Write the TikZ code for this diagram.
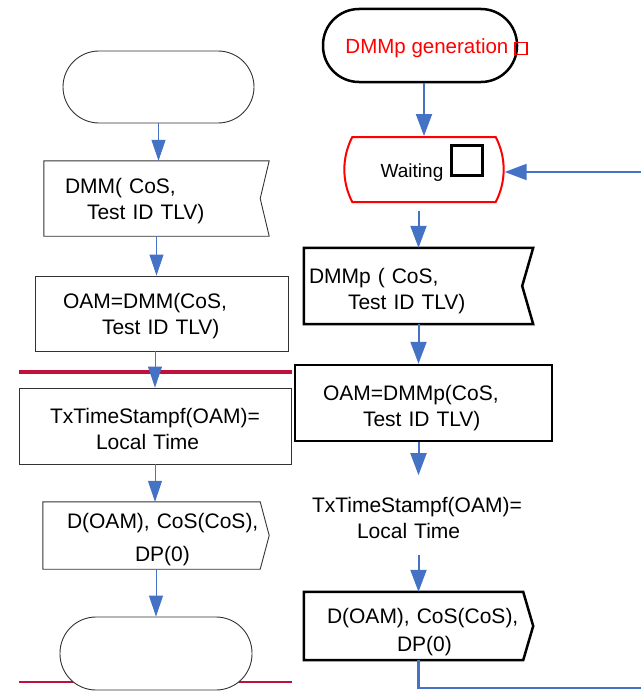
\documentclass[tikz,border=0pt]{standalone}
\usepackage{fontspec}
\setmainfont{Liberation Sans}
\usetikzlibrary{arrows.meta,shapes.misc}

\definecolor{flowblue}{RGB}{68,114,196}
\definecolor{cutred}{RGB}{192,16,60}

% small squares printed after the state texts
\newcommand{\gensq}{{\setlength{\fboxsep}{0pt}\setlength{\fboxrule}{1.3pt}\fbox{\rule{0pt}{10.5pt}\hspace{10.5pt}}}}
\newcommand{\waitsq}{{\setlength{\fboxsep}{0pt}\setlength{\fboxrule}{3pt}\fbox{\rule{0pt}{27pt}\hspace{28pt}}}}

\begin{document}
\begin{tikzpicture}[
    x=1pt, y=-1pt,
    every node/.style={font=\fontsize{21}{26}\selectfont},
    >={Triangle[length=21pt,width=14pt]},
    thinbox/.style={draw=black!80, line width=0.9pt},
    thickbox/.style={draw=black, line width=2.5pt},
    term/.style={rounded corners=36pt, minimum width=#1, minimum height=73pt},
    txt/.style n args={3}{minimum height=#1, inner xsep=#2, inner ysep=0pt,
        text width=#3, align=left},
    lift/.style={execute at begin node={\rule{0pt}{#1}}},
    lflow/.style={->, flowblue, line width=1pt},
    rflow/.style={-{Triangle[length=22pt,width=16pt]}, flowblue, line width=2pt},
]

\useasboundingbox (0,0) rectangle (641,693);

% === Cut lines (behind everything) ===
\draw[cutred, line width=4pt] (19,372) -- (292,372);
\draw[cutred, line width=2.5pt] (19,682) -- (292,682);

% === Left column ===
\node[thinbox, term=191pt, minimum height=72pt] (lstart) at (158.5,87) {};
\node[txt={75pt}{21pt}{183pt}, lift=21pt] (ldmm) at (156.5,198.5)
    {DMM( CoS,\\\hspace*{22pt}Test ID TLV)};
\draw[thinbox] (ldmm.north west) -- (ldmm.north east) -- ([xshift=-9pt]ldmm.east)
    -- (ldmm.south east) -- (ldmm.south west) -- cycle;
\node[thinbox, txt={75pt}{28pt}{197pt}, lift=21pt] (loam) at (161.5,313.5)
    {OAM=DMM(CoS,\\\hspace*{39pt}Test ID TLV)};
\node[thinbox, txt={76pt}{31pt}{210pt}, lift=21pt] (lstamp) at (155,426)
    {\mbox{TxTimeStampf(OAM)=}\\\hspace*{46pt}Local Time};
\node[txt={67pt}{24pt}{178pt}, lift=23pt] (lout) at (156,535.5)
    {\mbox{D(OAM), CoS(CoS),}\\[7pt]\hspace*{68pt}DP(0)};
\draw[thinbox] (lout.north west) -- ([xshift=-9pt]lout.north east) -- (lout.east)
    -- ([xshift=-9pt]lout.south east) -- (lout.south west) -- cycle;
\node[thinbox, term=192pt, fill=white] (lend) at (156,653.5) {};

\draw[lflow] (lstart.south) -- (lstart.south |- ldmm.north);
\draw[lflow] (ldmm.south) -- (ldmm.south |- loam.north);
\draw[lflow] (lstamp.north |- loam.south) -- (lstamp.north);
\draw[lflow] (lstamp.south) -- (lstamp.south |- lout.north);
\draw[lflow] (lout.south) -- (lout.south |- lend.north);

% === Right column ===
\node[thickbox, term=194pt, text=red, font=\fontsize{20.5}{25}\selectfont] (rgen) at (420,45.5)
    {\makebox[0pt]{\hspace*{33pt}DMMp generation\hspace{6pt}\gensq}\rule{0pt}{21pt}};
\node[draw=red, line width=2pt, rounded rectangle, rounded rectangle arc length=55,
    minimum width=166pt, minimum height=65pt, font=\fontsize{19}{23}\selectfont]
    (rwait) at (424,169.5)
    {\hspace*{17pt}Waiting\hspace{7pt}\raisebox{3pt}{\waitsq}\rule[-18pt]{0pt}{1pt}};
\node[txt={76pt}{5pt}{219pt}, lift=25pt] (rdmm) at (418.5,286)
    {DMMp ( CoS,\\\hspace*{39pt}Test ID TLV)};
\draw[thickbox] (rdmm.north west) -- (rdmm.north east) -- ([xshift=-11pt]rdmm.east)
    -- (rdmm.south east) -- (rdmm.south west) -- cycle;
\node[thickbox, txt={76pt}{28pt}{201pt}, lift=25pt] (roam) at (423.5,403)
    {OAM=DMMp(CoS,\\\hspace*{40pt}Test ID TLV)};
\node[txt={0pt}{0pt}{213pt}, inner ysep=16pt, lift=21pt] (rstamp) at (418.5,515)
    {\mbox{TxTimeStampf(OAM)=}\\\hspace*{45pt}Local Time};
\node[txt={68pt}{23pt}{183pt}, lift=27pt] (rout) at (418.5,626)
    {\mbox{D(OAM), CoS(CoS),}\\[2pt]\hspace*{70pt}DP(0)};
\draw[thickbox] (rout.north west) -- ([xshift=-10pt]rout.north east) -- (rout.east)
    -- ([xshift=-10pt]rout.south east) -- (rout.south west) -- cycle;

\draw[rflow] (rwait.north |- rgen.south) -- (rwait.north);
\draw[rflow, shorten <=8pt] (rdmm.north |- rwait.south) -- (rdmm.north);
\draw[rflow] (rdmm.south) -- (rdmm.south |- roam.north);
\draw[rflow] (rstamp.north |- roam.south) -- (rstamp.north);
\draw[rflow] (rstamp.south) -- (rstamp.south |- rout.north);

% feedback to the waiting state (runs off the right edge)
\coordinate (backout) at (641,688);
\coordinate (backin) at (641,172);
\draw[flowblue, line width=2.5pt] (rout.south) |- (backout);
\draw[rflow] (backin) -- (backin -| rwait.east);

\end{tikzpicture}
\end{document}
